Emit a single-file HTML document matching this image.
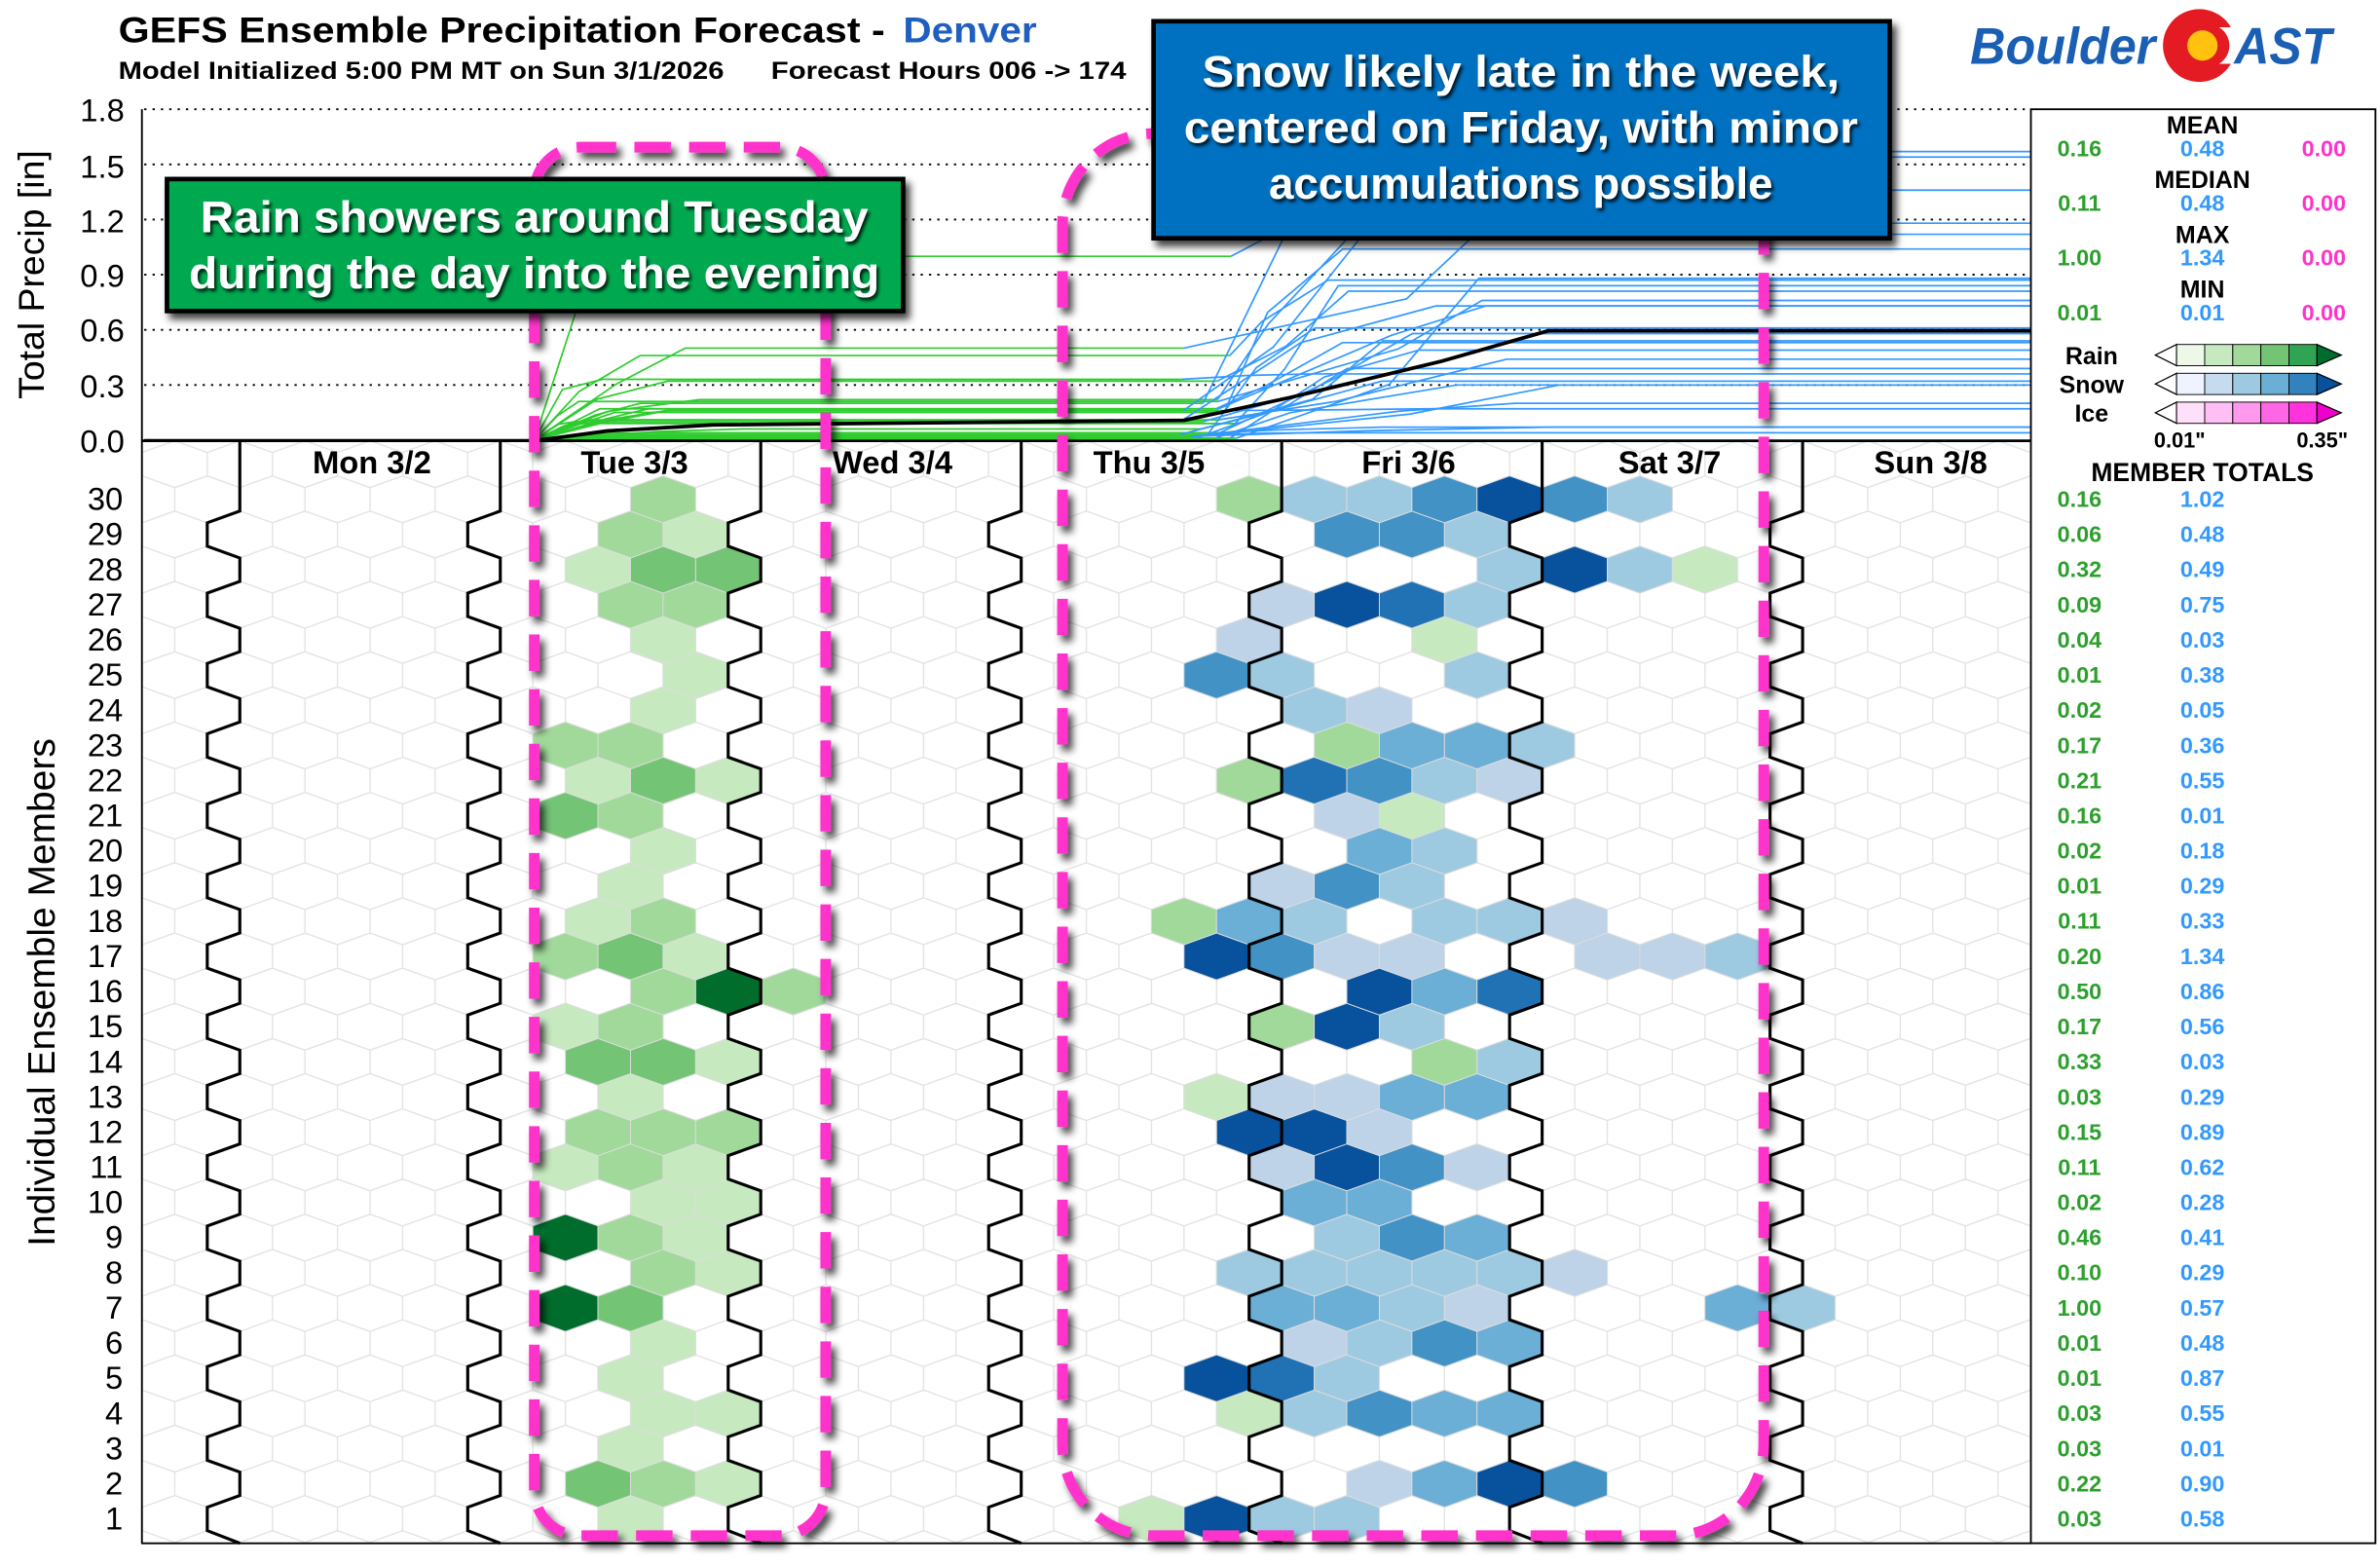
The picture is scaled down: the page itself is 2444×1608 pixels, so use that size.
<!DOCTYPE html>
<html><head><meta charset="utf-8">
<style>
html,body{margin:0;padding:0;background:#fff;}
svg{display:block;}
text{font-family:"Liberation Sans",sans-serif;}
</style></head>
<body>
<svg id="s" xmlns="http://www.w3.org/2000/svg" width="2444" height="1608" viewBox="0 0 1568 1032" preserveAspectRatio="none">
<defs>
<filter id="sh" x="-10%" y="-10%" width="130%" height="130%"><feDropShadow dx="3" dy="4" stdDeviation="2.5" flood-color="#000" flood-opacity="0.75"/></filter>
<filter id="tsh" x="-10%" y="-20%" width="130%" height="150%"><feDropShadow dx="1.5" dy="2" stdDeviation="1" flood-color="#000" flood-opacity="0.8"/></filter>
<clipPath id="pc"><rect x="94" y="291" width="1244" height="726"/></clipPath>
<clipPath id="tc"><rect x="94" y="72" width="1244" height="219"/></clipPath>
</defs>
<rect width="1568" height="1032" fill="#fff"/>
<g id="grid" clip-path="url(#pc)"></g>
<g id="cells" clip-path="url(#pc)"></g>
<g id="zig"></g>
<g id="top"></g>
<g stroke="#000" stroke-width="1.2" fill="none">
<line x1="93.5" y1="72" x2="93.5" y2="1017"/>
<line x1="93" y1="1017" x2="1338" y2="1017"/>
<line x1="93" y1="290.5" x2="1338" y2="290.5" stroke-width="1.8"/>
<rect x="1338" y="72" width="227" height="945"/>
</g>
<g font-size="21" text-anchor="end" fill="#000">
<text x="82" y="80">1.8</text><text x="82" y="117">1.5</text><text x="82" y="153">1.2</text>
<text x="82" y="189">0.9</text><text x="82" y="225">0.6</text><text x="82" y="262">0.3</text><text x="82" y="298">0.0</text>
</g>
<text transform="translate(29,181) rotate(-90)" font-size="24" text-anchor="middle">Total Precip [in]</text>
<text transform="translate(36,654) rotate(-90)" font-size="25" text-anchor="middle">Individual Ensemble Members</text>
<g id="mlab" font-size="21" text-anchor="end"></g>
<g font-size="21" font-weight="bold" text-anchor="middle">
<text x="245" y="312">Mon 3/2</text><text x="418" y="312">Tue 3/3</text><text x="588" y="312">Wed 3/4</text>
<text x="757" y="312">Thu 3/5</text><text x="928" y="312">Fri 3/6</text><text x="1100" y="312">Sat 3/7</text><text x="1272" y="312">Sun 3/8</text>
</g>
<g font-size="16" font-weight="bold" text-anchor="middle">
<text x="1451" y="88">MEAN</text><text x="1451" y="124">MEDIAN</text><text x="1451" y="160">MAX</text><text x="1451" y="196">MIN</text>
<text x="1378" y="240">Rain</text><text x="1378" y="259">Snow</text><text x="1378" y="278">Ice</text>
<text x="1451" y="317" font-size="17">MEMBER TOTALS</text>
</g>
<g font-size="15" font-weight="bold" text-anchor="middle">
<text x="1370" y="103" fill="#2ca02c">0.16</text><text x="1451" y="103" fill="#3399ff">0.48</text><text x="1531" y="103" fill="#ff33cc">0.00</text>
<text x="1370" y="139" fill="#2ca02c">0.11</text><text x="1451" y="139" fill="#3399ff">0.48</text><text x="1531" y="139" fill="#ff33cc">0.00</text>
<text x="1370" y="175" fill="#2ca02c">1.00</text><text x="1451" y="175" fill="#3399ff">1.34</text><text x="1531" y="175" fill="#ff33cc">0.00</text>
<text x="1370" y="211" fill="#2ca02c">0.01</text><text x="1451" y="211" fill="#3399ff">0.01</text><text x="1531" y="211" fill="#ff33cc">0.00</text>
<text x="1436" y="295" fill="#000" font-size="14">0.01"</text><text x="1530" y="295" fill="#000" font-size="14">0.35"</text>
</g>
<g id="leg"></g>
<g id="tot" font-size="15" font-weight="bold" text-anchor="middle"></g>
<text x="78" y="28" font-size="24" font-weight="bold" textLength="505" lengthAdjust="spacingAndGlyphs">GEFS Ensemble Precipitation Forecast -</text>
<text x="595" y="28" font-size="24" font-weight="bold" fill="#1f5fbf" textLength="88" lengthAdjust="spacingAndGlyphs">Denver</text>
<text x="78" y="52" font-size="16" font-weight="bold" textLength="399" lengthAdjust="spacingAndGlyphs">Model Initialized 5:00 PM MT on Sun 3/1/2026</text>
<text x="508" y="52" font-size="16" font-weight="bold" textLength="234" lengthAdjust="spacingAndGlyphs">Forecast Hours 006 -&gt; 174</text>
<text x="1298" y="42" font-size="34" font-weight="bold" font-style="italic" fill="#1a5fb4" textLength="122" lengthAdjust="spacingAndGlyphs">Boulder</text>
<circle cx="1449" cy="30" r="24" fill="#e41b23"/>
<circle cx="1451" cy="30" r="10" fill="#ffc20e"/>
<path d="M1462 18 L1480 18 L1480 42 L1462 42 A14 14 0 0 0 1462 18Z" fill="#fff"/>
<text x="1472" y="42" font-size="34" font-weight="bold" font-style="italic" fill="#1a5fb4" textLength="64" lengthAdjust="spacingAndGlyphs">AST</text>
<g fill="none" stroke="#ff33cc" stroke-width="7" stroke-dasharray="24 12" filter="url(#sh)">
<rect x="352" y="97" width="192" height="915" rx="30"/>
<rect x="700" y="88" width="462" height="924" rx="60"/>
</g>
<rect x="110" y="118" width="485" height="87" fill="#00a94f" stroke="#000" stroke-width="3" filter="url(#sh)"/>
<g font-size="29" font-weight="bold" fill="#fff" text-anchor="middle" filter="url(#tsh)">
<text x="352" y="153" textLength="440" lengthAdjust="spacingAndGlyphs">Rain showers around Tuesday</text>
<text x="352" y="190" textLength="455" lengthAdjust="spacingAndGlyphs">during the day into the evening</text>
</g>
<rect x="760" y="14" width="485" height="143" fill="#0070c0" stroke="#000" stroke-width="3" filter="url(#sh)"/>
<g font-size="29" font-weight="bold" fill="#fff" text-anchor="middle" filter="url(#tsh)">
<text x="1002" y="57" textLength="420" lengthAdjust="spacingAndGlyphs">Snow likely late in the week,</text>
<text x="1002" y="94" textLength="444" lengthAdjust="spacingAndGlyphs">centered on Friday, with minor</text>
<text x="1002" y="131" textLength="332" lengthAdjust="spacingAndGlyphs">accumulations possible</text>
</g>
</svg>
<script>
(function(){
var NS="http://www.w3.org/2000/svg";
function el(p,t,a,txt){var e=document.createElementNS(NS,t);for(var k in a)e.setAttribute(k,a[k]);if(txt!==undefined)e.textContent=txt;p.appendChild(e);return e;}
var hw=21.45,h4=7.72,h2=15.45,X0=158;
function ry(r){return 1001-(r-1)*23.17;}
function hex(cx,cy){return [cx,cy-h2,cx+hw,cy-h4,cx+hw,cy+h4,cx,cy+h2,cx-hw,cy+h4,cx-hw,cy-h4].map(function(v){return v.toFixed(2)}).join(" ");}
var grid=document.getElementById("grid");
var gd="";
for(var r=0;r<=32;r++){var cy=ry(r);for(var j=-6;j<=58;j++){if((r%2===1)!==(j%2===0))continue;var cx=X0+j*hw;
gd+="M"+hex(cx,cy).split(" ").reduce(function(a,v,i){return a+(i%2===0&&i>0?" L":" ")+v;},"")+"Z";}}
el(grid,"path",{d:gd,fill:"none",stroke:"#e4e4e4","stroke-width":"0.9"});
var C={g1:"#c7e9c0",g2:"#a1d99b",g3:"#74c476",g5:"#006d2c",b1:"#bed3e8",b2:"#9ecae1",b3:"#6baed6",b4:"#4292c6",b5:"#2171b5",b6:"#08519c"};
var cells={
30:"13g2 31g2 33b2 35b2 37b4 39b6 41b4 43b2",
29:"12g2 14g1 34b4 36b4 38b2",
28:"11g1 13g3 15g3 39b2 41b6 43b2 45g1",
27:"12g2 14g2 32b1 34b6 36b5 38b2",
26:"13g1 31b1 37g1",
25:"14g1 30b4 32b2 38b2",
24:"13g1 33b2 35b1",
23:"10g2 12g2 34g2 36b3 38b3 40b2",
22:"11g1 13g3 15g1 31g2 33b5 35b4 37b2 39b1",
21:"10g3 12g2 34b1 36g1",
20:"13g1 35b3 37b2",
19:"12g1 32b1 34b4 36b2",
18:"11g1 13g2 29g2 31b3 33b2 37b2 39b2 41b1",
17:"10g2 12g3 14g1 30b6 32b4 34b1 36b1 42b1 44b1 46b2",
16:"13g2 15g5 17g2 35b6 37b3 39b5",
15:"10g1 12g2 32g2 34b6 36b2",
14:"11g3 13g3 15g1 37g2 39b2",
13:"12g1 30g1 32b1 34b1 36b3 38b3",
12:"11g2 13g2 15g2 31b6 33b6 35b1",
11:"10g1 12g2 14g1 32b1 34b6 36b4 38b1",
10:"13g1 15g1 33b3 35b3",
9:"10g5 12g2 14g1 34b2 36b4 38b3",
8:"13g2 15g1 31b2 33b2 35b2 37b2 39b2 41b1",
7:"10g5 12g3 32b3 34b3 36b2 38b1 46b3 48b2",
6:"13g1 33b1 35b2 37b4 39b3",
5:"12g1 30b6 32b5 34b2",
4:"13g1 15g1 31g1 33b2 35b4 37b3 39b3",
3:"12g1",
2:"11g3 13g2 15g1 35b1 37b3 39b6 41b4",
1:"12g1 28g1 30b6 32b2 34b2"};
var cg=document.getElementById("cells");
for(var rr in cells){cells[rr].split(" ").forEach(function(t){var m=t.match(/(\d+)([gb]\d)/);var j=+m[1];
el(cg,"polygon",{points:hex(X0+j*hw,ry(+rr)),fill:C[m[2]],stroke:"#ddd","stroke-width":"0.6"});});}
var zg=document.getElementById("zig");
for(var k=0;k<7;k++){var xd=X0+k*171.6;var d="M"+xd+" 290";
for(var r=30;r>=1;r--){var x=(r%2===0)?xd:xd-hw;var y=ry(r);d+=" L"+x.toFixed(2)+" "+(y-h4).toFixed(2)+" L"+x.toFixed(2)+" "+(y+h4).toFixed(2);}
d+=" L"+xd+" 1017";
el(zg,"path",{d:d,fill:"none",stroke:"#000","stroke-width":"2"});}
var gt=[0.16,0.06,0.32,0.09,0.04,0.01,0.02,0.17,0.21,0.16,0.02,0.01,0.11,0.20,0.50,0.17,0.33,0.03,0.15,0.11,0.02,0.46,0.10,1.00,0.01,0.01,0.03,0.03,0.22,0.03];
var bt=[1.02,0.48,0.49,0.75,0.03,0.38,0.05,0.36,0.55,0.01,0.18,0.29,0.33,1.34,0.86,0.56,0.03,0.29,0.89,0.62,0.28,0.41,0.29,0.57,0.48,0.87,0.55,0.01,0.90,0.58];
var ml=document.getElementById("mlab"),tt=document.getElementById("tot");
for(var i=0;i<30;i++){var r=30-i,y=ry(r);
el(ml,"text",{x:81,y:(y+7).toFixed(1)},String(r));
el(tt,"text",{x:1370,y:(y+5).toFixed(1),fill:"#2ca02c"},gt[i].toFixed(2));
el(tt,"text",{x:1451,y:(y+5).toFixed(1),fill:"#3399ff"},bt[i].toFixed(2));}
var lg=document.getElementById("leg");
var pal=[["#edf8e9","#c7e9c0","#a1d99b","#74c476","#31a354","#006d2c"],["#eff3ff","#c6dbef","#9ecae1","#6baed6","#3182bd","#08519c"],["#ffe0fa","#ffbff5","#ff99ee","#ff66e6","#ff33dd","#ee00cc"]];
for(var p=0;p<3;p++){var y=234+p*19;var x0=1434,bw=18.5;
el(lg,"polygon",{points:(x0)+","+(y-7)+" "+(x0-14)+","+y+" "+x0+","+(y+7),fill:"#fff",stroke:"#000","stroke-width":"0.8"});
for(var q=0;q<5;q++)el(lg,"rect",{x:x0+q*bw,y:y-7,width:bw,height:14,fill:pal[p][q],stroke:"#000","stroke-width":"0.6"});
var xe=x0+5*bw;el(lg,"polygon",{points:xe+","+(y-7)+" "+(xe+16)+","+y+" "+xe+","+(y+7),fill:pal[p][5],stroke:"#000","stroke-width":"0.8"});}
var tp=document.getElementById("top");
[1.8,1.5,1.2,0.9,0.6,0.3].forEach(function(v){var y=290-v*121.1;el(tp,"line",{x1:95,x2:1338,y1:y,y2:y,stroke:"#000","stroke-width":"1.2","stroke-dasharray":"1.5 4"});});
var lines=el(tp,"g",{"clip-path":"url(#tc)",fill:"none","stroke-width":"1.1"});
function Y(v){return 290-v*121.1;}
var seed=7;function rnd(){seed=(seed*9301+49297)%233280;return seed/233280;}
var greens=[],blues=[];
for(var i=0;i<30;i++){var g=gt[i],b=bt[i];
var gx1=375+rnd()*130;var gmid=352+(gx1-352)*(0.4+rnd()*0.3);
var bx0=775+rnd()*40;var bx1=860+rnd()*180;var bmid=bx0+(bx1-bx0)*(0.3+rnd()*0.4);
greens.push("M95 290 L352 290 L"+gmid.toFixed(1)+" "+Y(g*(0.5+rnd()*0.4)).toFixed(1)+" L"+gx1.toFixed(1)+" "+Y(g).toFixed(1)+" L"+bx0.toFixed(1)+" "+Y(g).toFixed(1));
blues.push("M"+bx0.toFixed(1)+" "+Y(g).toFixed(1)+" L"+bmid.toFixed(1)+" "+Y(g+b*(0.3+rnd()*0.5)).toFixed(1)+" L"+bx1.toFixed(1)+" "+Y(g+b).toFixed(1)+" L1338 "+Y(g+b).toFixed(1));}
greens.forEach(function(d){el(lines,"path",{d:d,stroke:"#2ecc2e"});});
blues.forEach(function(d){el(lines,"path",{d:d,stroke:"#3399ff"});});
el(lines,"path",{d:"M95 290.5 L352 290.5 L400 284 L470 280 L780 277 L850 262 L950 238 L1020 218 L1338 218",stroke:"#000","stroke-width":"2.4"});
})();
</script>
</body></html>
